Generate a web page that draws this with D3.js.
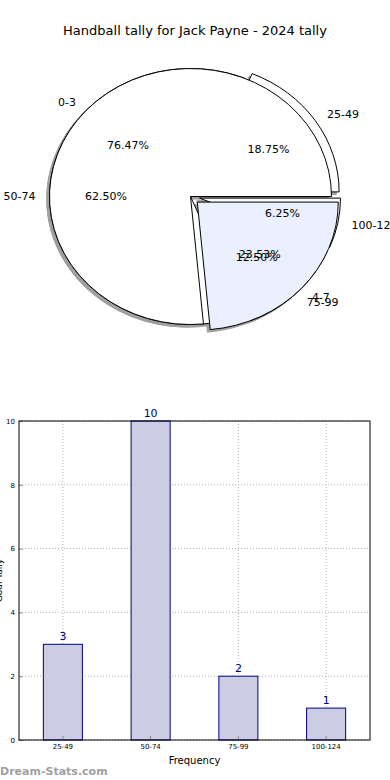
<!DOCTYPE html>
<html>
<head>
<meta charset="utf-8">
<script src="https://cdn.jsdelivr.net/npm/d3@7"></script>
<style>
  body { margin: 0; background: #fff; }
  svg { display: block; font-family: "DejaVu Sans", sans-serif; }
</style>
</head>
<body>
<svg id="chart" width="390" height="780"></svg>
<script>
// first pie (0-3 / 4-7)
const pieALabels = ["0-3", "4-7"];
const pieAValues = [13, 4];
const pieAColors = ["#ffffff", "#eaf0fd"];

// second pie and the bars
const categories = ["25-49", "50-74", "75-99", "100-124"];
const tallies = [3, 10, 2, 1];
const yTicks = [0, 2, 4, 6, 8, 10];

const svg = d3.select("#chart");

svg.append("text")
    .attr("x", 195).attr("y", 35)
    .attr("text-anchor", "middle")
    .style("font-size", "13px")
    .text("Handball tally for Jack Payne - 2024 tally");

// pie is an ellipse, matplotlib style (counter clockwise from 3 o'clock)
const cx = 190.5, cy = 196.5, rx = 141, ry = 128;
const explode = 0.065;

const pieLayer = svg.append("g").attr("transform", "translate(" + cx + "," + cy + ")");
const shadowLayer = pieLayer.append("g");
const wedgeLayer = pieLayer.append("g");
const textLayer = pieLayer.append("g");

const unitArc = d3.arc().innerRadius(0).outerRadius(1);

function makeSlices(values) {
    let total = d3.sum(values);
    let maxV = d3.max(values);
    let acc = 0;
    return values.map(function (v, i) {
        let t0 = acc / total * 2 * Math.PI;
        acc += v;
        let t1 = acc / total * 2 * Math.PI;
        let tm = (t0 + t1) / 2;
        return {
            i: i, value: v, pct: v / total * 100,
            startAngle: Math.PI / 2 - t0,
            endAngle: Math.PI / 2 - t1,
            mid: tm,
            ex: v === maxV ? 0 : explode
        };
    });
}

function drawPie(values, labels, colors) {
    let slices = makeSlices(values);
    slices.forEach(function (s) {
        let dx = s.ex * rx * Math.cos(s.mid);
        let dy = -s.ex * ry * Math.sin(s.mid);
        // shadow
        shadowLayer.append("path")
            .attr("d", unitArc(s))
            .attr("transform", "translate(" + (dx - 0.02 * rx) + "," + (dy + 0.02 * ry) + ") scale(" + rx + "," + ry + ")")
            .attr("fill", "#a0a0a0")
            .attr("stroke", "#a0a0a0")
            .attr("vector-effect", "non-scaling-stroke")
            .attr("stroke-width", 1);
        wedgeLayer.append("path")
            .attr("d", unitArc(s))
            .attr("transform", "translate(" + dx + "," + dy + ") scale(" + rx + "," + ry + ")")
            .attr("fill", colors[s.i % colors.length])
            .attr("stroke", "#000")
            .attr("vector-effect", "non-scaling-stroke")
            .attr("stroke-width", 1);
        let c = Math.cos(s.mid), sn = Math.sin(s.mid);
        // label outside
        textLayer.append("text")
            .attr("x", (1.1 + s.ex) * rx * c)
            .attr("y", -(1.1 + s.ex) * ry * sn)
            .attr("dy", "0.35em")
            .attr("text-anchor", c < 0 ? "end" : "start")
            .style("font-size", "11px")
            .text(labels[s.i]);
        // percent inside
        textLayer.append("text")
            .attr("x", (0.6 + s.ex) * rx * c)
            .attr("y", -(0.6 + s.ex) * ry * sn)
            .attr("dy", "0.35em")
            .attr("text-anchor", "middle")
            .style("font-size", "11px")
            .text(d3.format(".2f")(s.pct) + "%");
    });
}

drawPie(tallies, categories, ["#ffffff"]);
drawPie(pieAValues, pieALabels, pieAColors);

// bar chart
const x0 = 19, x1 = 370, y0 = 740, y1 = 421;

const x = d3.scaleBand().domain(categories).range([x0, x1])
    .paddingInner(0.555).paddingOuter(0.2775);
const y = d3.scaleLinear().domain([0, 10]).range([y0, y1]);

const bar = svg.append("g");

// grid
bar.selectAll(".hgrid").data(yTicks).enter().append("line")
    .attr("x1", x0).attr("x2", x1)
    .attr("y1", d => y(d)).attr("y2", d => y(d))
    .attr("stroke", "#b0b0b0").attr("stroke-dasharray", "1,2");
bar.selectAll(".vgrid").data(categories).enter().append("line")
    .attr("x1", d => x(d) + x.bandwidth() / 2).attr("x2", d => x(d) + x.bandwidth() / 2)
    .attr("y1", y0).attr("y2", y1)
    .attr("stroke", "#b0b0b0").attr("stroke-dasharray", "1,2");

bar.selectAll(".bar").data(tallies).enter().append("rect")
    .attr("x", (d, i) => x(categories[i]))
    .attr("y", d => y(d))
    .attr("width", x.bandwidth())
    .attr("height", d => y0 - y(d))
    .attr("fill", "#ccccE4")
    .attr("stroke", "#000080")
    .attr("stroke-width", 1);

bar.selectAll(".val").data(tallies).enter().append("text")
    .attr("x", (d, i) => x(categories[i]) + x.bandwidth() / 2)
    .attr("y", d => y(d) - 4)
    .attr("text-anchor", "middle")
    .attr("fill", "#000080")
    .style("font-size", "11px")
    .text(d => d);

// axes
const yAxis = d3.axisLeft(y).tickValues(yTicks).tickSize(-4).tickPadding(4);
const yg = bar.append("g").attr("transform", "translate(" + x0 + ",0)").call(yAxis);
yg.select(".domain").remove();
yg.selectAll("text").style("font-size", "7px").style("font-family", "DejaVu Sans");
yg.selectAll("line").attr("stroke", "#888");

const xAxis = d3.axisBottom(x).tickSize(-4).tickPadding(4);
const xg = bar.append("g").attr("transform", "translate(0," + y0 + ")").call(xAxis);
xg.select(".domain").remove();
xg.selectAll("text").style("font-size", "7px").style("font-family", "DejaVu Sans");
xg.selectAll("line").attr("stroke", "#888");

bar.append("rect")
    .attr("x", x0).attr("y", y1)
    .attr("width", x1 - x0).attr("height", y0 - y1)
    .attr("fill", "none").attr("stroke", "#000").attr("stroke-width", 1);

bar.append("text")
    .attr("x", (x0 + x1) / 2).attr("y", 764)
    .attr("text-anchor", "middle")
    .style("font-size", "10px")
    .text("Frequency");

bar.append("text")
    .attr("transform", "translate(2," + ((y0 + y1) / 2) + ") rotate(-90)")
    .attr("text-anchor", "middle")
    .style("font-size", "9px")
    .text("Goal Tally");

svg.append("text")
    .attr("x", 0).attr("y", 775)
    .attr("fill", "#a0a0a0")
    .style("font-size", "11px")
    .style("font-weight", "bold")
    .text("Dream-Stats.com");
</script>
</body>
</html>
